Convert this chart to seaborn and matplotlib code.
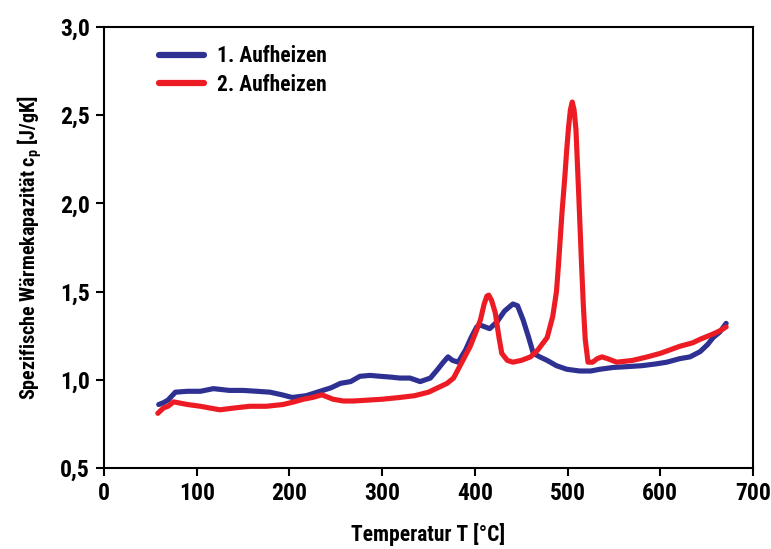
import numpy as np
import pandas as pd
import seaborn as sns
import matplotlib
matplotlib.use("Agg")
import matplotlib.pyplot as plt

# values
temp_1 = [59, 64, 69, 77, 90, 104, 118, 135, 150, 165, 179, 192, 203, 218, 233, 245, 255, 266,
          276, 287, 298, 310, 319, 330, 341, 352, 360, 366, 371, 376, 382, 390, 396, 402, 406,
          411, 416, 424, 432, 441, 446, 452, 458, 463, 470, 478, 488, 499, 513, 525, 535, 549,
          565, 580, 595, 607, 621, 632, 643, 651, 657, 664, 671]
cp_1 = [0.86, 0.87, 0.885, 0.93, 0.935, 0.935, 0.95, 0.94, 0.94, 0.935, 0.93, 0.915, 0.90, 0.91,
        0.935, 0.955, 0.98, 0.99, 1.02, 1.025, 1.02, 1.015, 1.01, 1.01, 0.99, 1.01, 1.06, 1.10,
        1.13, 1.11, 1.10, 1.17, 1.24, 1.30, 1.31, 1.30, 1.29, 1.33, 1.39, 1.43, 1.42, 1.34, 1.24,
        1.15, 1.13, 1.11, 1.08, 1.06, 1.05, 1.05, 1.06, 1.07, 1.075, 1.08, 1.09, 1.10, 1.12, 1.13,
        1.16, 1.20, 1.24, 1.27, 1.32]

temp_2 = [58, 64, 69, 75, 90, 104, 125, 140, 157, 175, 193, 205, 215, 225, 235, 247, 258, 269,
          285, 300, 319, 335, 350, 362, 370, 377, 386, 395, 401, 406, 410, 413, 415, 418, 422,
          426, 429, 435, 441, 450, 460, 468, 478, 484, 488, 490, 494, 497, 499, 501, 503, 505,
          507, 509, 512, 515, 517, 519, 522, 527, 532, 537, 543, 553, 570, 586, 600, 621, 635,
          643, 657, 665, 671]
cp_2 = [0.81, 0.84, 0.85, 0.875, 0.86, 0.85, 0.83, 0.84, 0.85, 0.85, 0.86, 0.875, 0.89, 0.90,
        0.915, 0.89, 0.88, 0.88, 0.885, 0.89, 0.90, 0.91, 0.93, 0.96, 0.98, 1.01, 1.10, 1.19,
        1.27, 1.34, 1.43, 1.475, 1.48, 1.45, 1.38, 1.24, 1.15, 1.11, 1.10, 1.11, 1.13, 1.17, 1.24,
        1.36, 1.50, 1.64, 1.95, 2.15, 2.30, 2.43, 2.53, 2.575, 2.53, 2.42, 2.05, 1.66, 1.42, 1.23,
        1.10, 1.10, 1.12, 1.13, 1.12, 1.10, 1.11, 1.13, 1.15, 1.19, 1.21, 1.23, 1.26, 1.28, 1.30]

x_ticks = [0, 100, 200, 300, 400, 500, 600, 700]
y_ticks = [0.5, 1.0, 1.5, 2.0, 2.5, 3.0]
y_tick_labels = ["0,5", "1,0", "1,5", "2,0", "2,5", "3,0"]

df = pd.concat([
    pd.DataFrame({"T": temp_1, "cp": cp_1, "run": "1. Aufheizen"}),
    pd.DataFrame({"T": temp_2, "cp": cp_2, "run": "2. Aufheizen"}),
])

sns.set_style("white")
plt.rcParams['font.family'] = ['Roboto Condensed', 'DejaVu Sans']
plt.rcParams['font.weight'] = 'bold'
plt.rcParams['text.color'] = 'black'
plt.rcParams['axes.labelcolor'] = 'black'
plt.rcParams['xtick.color'] = 'black'
plt.rcParams['ytick.color'] = 'black'

fig = plt.figure(figsize=(7.71, 5.49), dpi=100)
ax = fig.add_axes([0.1349, 0.1475, 0.8418, 0.8033])

sns.lineplot(data=df, x="T", y="cp", hue="run", sort=False, ax=ax,
             palette=["#2e3192", "#ed1c24"], linewidth=3.7)

ax.set_xlim(0, 700)
ax.set_ylim(0.5, 3.0)
ax.set_xticks(x_ticks)
ax.set_xticklabels([str(t) for t in x_ticks])
ax.set_yticks(y_ticks)
ax.set_yticklabels(y_tick_labels)
ax.tick_params(direction="out", length=6, width=1.5, labelsize=17, pad=4,
               bottom=True, left=True)
for lbl in ax.get_xticklabels() + ax.get_yticklabels():
    lbl.set_fontweight("bold")
for sp in ax.spines.values():
    sp.set_color("black")
    sp.set_linewidth(1.5)

ax.set_xlabel("Temperatur T [°C]", fontsize=15.5, fontweight="bold", labelpad=13)
ax.set_ylabel(r"Spezifische Wärmekapazität c$_\mathregular{p}$ [J/gK]", fontsize=14.5,
              fontweight="bold", labelpad=12)

leg = ax.legend(loc="upper left", bbox_to_anchor=(0.055, 1.003), frameon=False,
                handlelength=2.1, handletextpad=0.6, labelspacing=0.3,
                prop={"weight": "bold", "size": 15.5})
for line in leg.get_lines():
    line.set_linewidth(4.5)

fig.savefig("out.png", dpi=100)
